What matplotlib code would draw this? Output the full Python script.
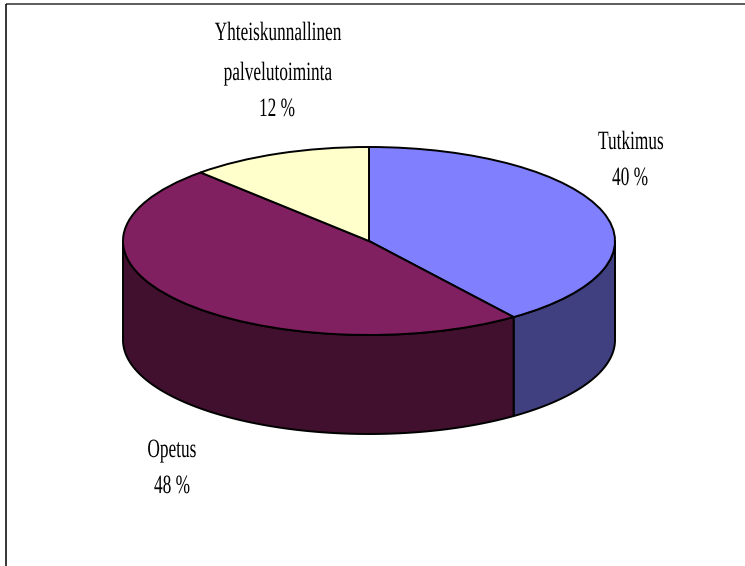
import numpy as np
from matplotlib import pyplot as plt
from matplotlib.patches import Wedge
from matplotlib.patheffects import AbstractPathEffect
from matplotlib.transforms import Affine2D

labels = ["Tutkimus", "Opetus", "Yhteiskunnallinen\npalvelutoiminta"]
values = [40, 48, 12]
top_colors = ["#8080FF", "#802060", "#FFFFCC"]
side_colors = ["#404080", "#40102E", "#808066"]

# pixel geometry of the tilted pie
cx, cy = 369, 241
rx, ry = 246, 94
depth = 99
edge = 1.4


class Narrow(AbstractPathEffect):
    # squeezes text sideways around its centre, the font in the chart is condensed
    def __init__(self, x_pix, sx):
        self.x_pix = x_pix
        self.sx = sx

    def draw_path(self, renderer, gc, tpath, affine, rgbFace=None):
        squeeze = Affine2D().translate(-self.x_pix, 0).scale(self.sx, 1).translate(self.x_pix, 0)
        renderer.draw_path(gc, tpath, affine + squeeze, rgbFace)


def add_label(ax, x, y, txt):
    x_pix = ax.transData.transform((x, y))[0]
    ax.text(x, y, txt, ha="center", va="center", fontsize=19, family="Liberation Serif",
            color="black", path_effects=[Narrow(x_pix, 0.655)])


fig = plt.figure(figsize=(7.45, 5.66), dpi=100)
ax = fig.add_axes([0, 0, 1, 1])
ax.set_xlim(0, 745)
ax.set_ylim(566, 0)
ax.axis("off")

# chart border, only top and left are visible
ax.plot([6, 745], [4, 4], color="#303030", lw=1.1, solid_capstyle="butt")
ax.plot([6, 6], [4, 566], color="black", lw=1.1, solid_capstyle="butt")

fractions = np.array(values) / sum(values)
ends = np.cumsum(fractions) * 360
starts = ends - fractions * 360

# side walls, only the part of each slice in front of the left/right edges shows
for start, end, col in zip(starts, ends, side_colors):
    a = max(start, 90)
    b = min(end, 270)
    if a >= b:
        continue
    t = np.radians(np.linspace(a, b, 200))
    x = cx + rx * np.sin(t)
    y = cy - ry * np.cos(t)
    ax.fill(np.r_[x, x[::-1]], np.r_[y, y[::-1] + depth], facecolor=col,
            edgecolor="black", lw=edge, joinstyle="round")

# top face
top = Affine2D().scale(rx, -ry).translate(cx, cy) + ax.transData
for start, end, col in zip(starts, ends, top_colors):
    ax.add_patch(Wedge((0, 0), 1, 90 - end, 90 - start, facecolor=col,
                       edgecolor="black", lw=edge, transform=top))

add_label(ax, 278, 34, labels[2].split("\n")[0])
add_label(ax, 278, 74, labels[2].split("\n")[1])
add_label(ax, 277, 110, f"{values[2]} %")
add_label(ax, 631, 143, labels[0])
add_label(ax, 630, 179, f"{values[0]} %")
add_label(ax, 172, 451, labels[1])
add_label(ax, 172, 487, f"{values[1]} %")

fig.savefig("out.png", dpi=100)
